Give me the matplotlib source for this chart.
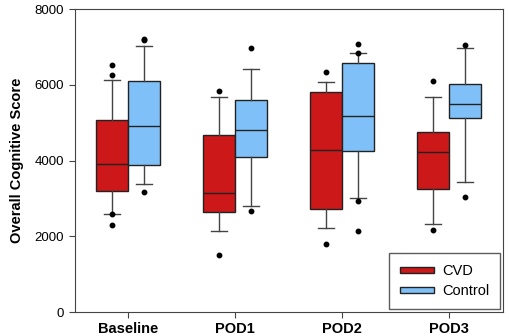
import matplotlib.pyplot as plt
from matplotlib.patches import Patch

plt.rcParams['font.family'] = ['Liberation Sans', 'DejaVu Sans']

# data
groups = ['Baseline', 'POD1', 'POD2', 'POD3']

cvd_whislo = [2596, 2146, 2209, 2331]
cvd_q1 = [3205, 2641, 2729, 3250]
cvd_med = [3913, 3144, 4283, 4222]
cvd_q3 = [5078, 4681, 5812, 4752]
cvd_whishi = [6130, 5669, 6085, 5687]
cvd_fliers = [[6517, 6262, 2596, 2289], [5846, 1502], [6342, 1793], [6103, 2156]]

ctl_whislo = [3391, 2808, 3020, 3444]
ctl_q1 = [3894, 4090, 4265, 5123]
ctl_med = [4911, 4813, 5166, 5484]
ctl_q3 = [6093, 5608, 6588, 6024]
ctl_whishi = [7012, 6429, 6835, 6967]
ctl_fliers = [[7205, 7171, 3171], [6977, 2667], [7083, 6845, 2932, 2138], [7057, 3046]]

red = '#cc1818'
blue = '#80c0f8'
edge = '#222222'


def make_stats(lo, q1, med, q3, hi, fl):
    out = []
    for i in range(len(lo)):
        out.append(dict(whislo=lo[i], q1=q1[i], med=med[i], q3=q3[i],
                        whishi=hi[i], fliers=fl[i]))
    return out


fig = plt.figure(figsize=(5.1, 3.36), dpi=100)
ax = fig.add_axes([0.1465, 0.0714, 0.8395, 0.9016])

x = list(range(1, len(groups) + 1))
for stats, off, col in [(make_stats(cvd_whislo, cvd_q1, cvd_med, cvd_q3, cvd_whishi, cvd_fliers), -0.15, red),
                        (make_stats(ctl_whislo, ctl_q1, ctl_med, ctl_q3, ctl_whishi, ctl_fliers), 0.15, blue)]:
    ax.bxp(stats, positions=[p + off for p in x], widths=0.3, capwidths=0.15,
           patch_artist=True, showfliers=True,
           boxprops=dict(facecolor=col, edgecolor=edge, linewidth=1),
           medianprops=dict(color=edge, linewidth=1),
           whiskerprops=dict(color='#444444', linewidth=1),
           capprops=dict(color='#444444', linewidth=1),
           flierprops=dict(marker='o', markerfacecolor='black', markeredgecolor='black',
                           markersize=3.2, linestyle='none'))

ax.set_xlim(0.5, 4.5)
ax.set_ylim(0, 8000)
ax.set_yticks([0, 2000, 4000, 6000, 8000])
ax.set_xticks(x)
ax.set_xticklabels(groups, fontweight='bold', fontsize=10.5)
ax.tick_params(axis='y', labelsize=9.5, length=4, color='#444444')
ax.tick_params(axis='x', length=4, color='#444444')
ax.set_ylabel('Overall Cognitive Score', fontweight='bold', fontsize=10.5, labelpad=8)
for s in ax.spines.values():
    s.set_color('#444444')

handles = [Patch(facecolor=red, edgecolor=edge, label='CVD'),
           Patch(facecolor=blue, edgecolor=edge, label='Control')]
leg = ax.legend(handles=handles, loc='lower right', fontsize=10.5, fancybox=False,
                handlelength=2.3, handleheight=0.28, borderaxespad=0.2,
                borderpad=0.75, labelspacing=0.4, handletextpad=0.55)
leg.get_frame().set_edgecolor('#333333')
leg.get_frame().set_linewidth(1)

fig.savefig('out.png', dpi=100)
